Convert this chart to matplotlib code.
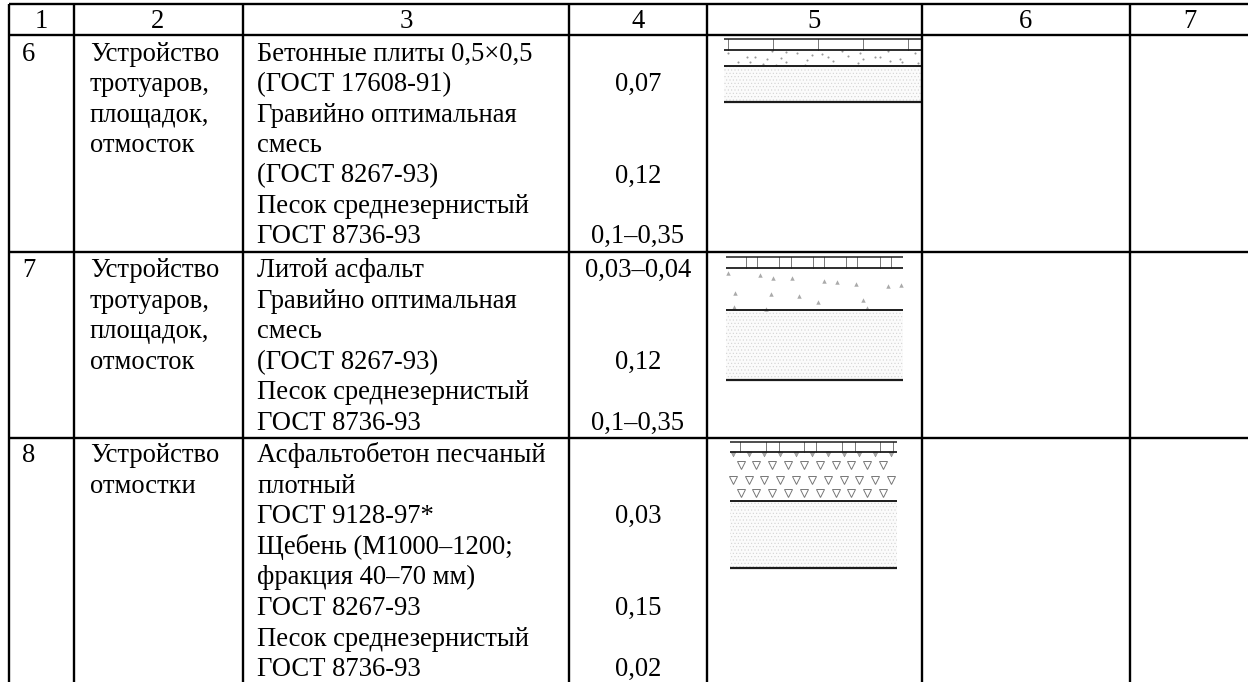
import matplotlib
matplotlib.use('Agg')
import matplotlib.pyplot as plt
from matplotlib.patches import Rectangle

plt.rcParams['font.family'] = ['Liberation Serif', 'DejaVu Serif']
plt.rcParams['hatch.linewidth'] = 0.4

W, H = 1248, 682
col_edges = [9, 74, 243, 569, 707, 922, 1130]
row_edges = [4, 35, 252, 438]
header_labels = ['1', '2', '3', '4', '5', '6', '7']
header_x = [41, 158, 406, 638, 814, 1026, 1190]

row_numbers = ['6', '7', '8']
row_works = [['Устройство', 'тротуаров,', 'площадок,', 'отмосток'],
             ['Устройство', 'тротуаров,', 'площадок,', 'отмосток'],
             ['Устройство', 'отмостки']]
row_materials = [
    ['Бетонные плиты 0,5×0,5', '(ГОСТ 17608-91)', 'Гравийно оптимальная', 'смесь',
     '(ГОСТ 8267-93)', 'Песок среднезернистый', 'ГОСТ 8736-93'],
    ['Литой асфальт', 'Гравийно оптимальная', 'смесь', '(ГОСТ 8267-93)',
     'Песок среднезернистый', 'ГОСТ 8736-93'],
    ['Асфальтобетон песчаный', 'плотный', 'ГОСТ 9128-97*', 'Щебень (М1000–1200;',
     'фракция 40–70 мм)', 'ГОСТ 8267-93', 'Песок среднезернистый', 'ГОСТ 8736-93'],
]
row_thickness = [
    ['', '0,07', '', '', '0,12', '', '0,1–0,35'],
    ['0,03–0,04', '', '', '0,12', '', '0,1–0,35'],
    ['', '', '0,03', '', '', '0,15', '', '0,02'],
]
first_baseline = [61, 277, 462]
pitch = [30.4, 30.6, 30.6]

# section drawings: layer boundaries and joints
sections = [
    dict(x=(724, 921), y=[39, 49.5, 66, 102], joints=[728, 773, 818, 863, 908]),
    dict(x=(726, 903), y=[257, 268, 310, 380],
         joints=[746, 757, 779, 791, 813, 824, 846, 857, 880, 891]),
    dict(x=(730, 897), y=[442, 452, 501, 568],
         joints=[740, 766, 779, 804, 816, 842, 855, 880, 893]),
]
gravel6_x = [728, 738, 747, 755, 750, 767, 763, 772, 781, 786, 786, 797, 812, 807, 805,
             822, 828, 833, 842, 848, 860, 863, 858, 875, 880, 888, 890, 900, 902, 915, 918, 776]
gravel6_y = [53, 62, 57, 57, 62, 59, 64, 51, 58, 52, 62, 53, 55, 60, 65,
             54, 57, 61, 51, 56, 53, 59, 63, 57, 57, 51, 61, 59, 62, 53, 63, 65]
gravel7_x = [728, 760, 773, 792, 824, 837, 856, 888, 901, 735, 771, 799, 818, 863, 734, 766, 867]
gravel7_y = [273, 275, 278, 278, 281, 282, 284, 286, 285, 293, 294, 296, 302, 300, 307, 309, 308]
tri_a_x = [741, 756, 772, 788, 804, 820, 836, 851, 867, 883]
tri_b_x = [733, 749, 764, 780, 796, 812, 828, 844, 859, 875, 891]
tri_rows_y = [465, 480, 493]

fig = plt.figure(figsize=(W / 100, H / 100), dpi=100)
ax = fig.add_axes([0, 0, 1, 1])
ax.set_xlim(0, W)
ax.set_ylim(H, 0)
ax.axis('off')

FS = 19.2
LW = 1.7
for y in row_edges:
    ax.plot([col_edges[0], W], [y, y], color='black', lw=LW, solid_capstyle='butt')
for x in col_edges:
    ax.plot([x, x], [row_edges[0], H], color='black', lw=LW, solid_capstyle='butt')

for s, x in zip(header_labels, header_x):
    ax.text(x, 28, s, ha='center', va='baseline', fontsize=FS, color='black')

col_center4 = (col_edges[3] + col_edges[4]) / 2
for i in range(3):
    b, p = first_baseline[i], pitch[i]
    ax.text(22, b, row_numbers[i], fontsize=FS, va='baseline')
    for j, s in enumerate(row_works[i]):
        ax.text(90, b + j * p, s, fontsize=FS, va='baseline')
    for j, s in enumerate(row_materials[i]):
        ax.text(257, b + j * p, s, fontsize=FS, va='baseline')
    for j, s in enumerate(row_thickness[i]):
        if s:
            ax.text(col_center4, b + j * p, s, fontsize=FS, va='baseline', ha='center')

# sand layers (bottom layer of each section) and stipple
for k, s in enumerate(sections):
    x0, x1 = s['x']
    y = s['y']
    ax.add_patch(Rectangle((x0, y[2]), x1 - x0, y[3] - y[2], facecolor='#fbfbfb',
                           edgecolor='#d2d2d2', hatch='.....', lw=0, zorder=1))
    for yy, lw in zip(y, [1.1, 1.3, 1.4, 1.6]):
        ax.plot([x0, x1], [yy, yy], color='#1c1c1c', lw=lw, zorder=3, solid_capstyle='butt')
    for jx in s['joints']:
        ax.plot([jx, jx], [y[0], y[1]], color='#777777', lw=0.7, zorder=2)

ax.plot(gravel6_x, gravel6_y, ls='none', marker='.', ms=3, color='#999999', mew=0, zorder=2)
ax.plot(gravel7_x, gravel7_y, ls='none', marker='^', ms=3.2, color='#aaaaaa', mew=0, zorder=2)
for yy, xs in zip(tri_rows_y, [tri_a_x, tri_b_x, tri_a_x]):
    ax.plot(xs, [yy] * len(xs), ls='none', marker='v', ms=6.2, mfc='none', mec='#777777', mew=0.7, zorder=2)
ax.plot(tri_b_x, [454] * len(tri_b_x), ls='none', marker='v', ms=3.5, mfc='#aaaaaa', mec='#888888', mew=0.4, zorder=2)

fig.savefig('out.png', dpi=100, facecolor='white')
